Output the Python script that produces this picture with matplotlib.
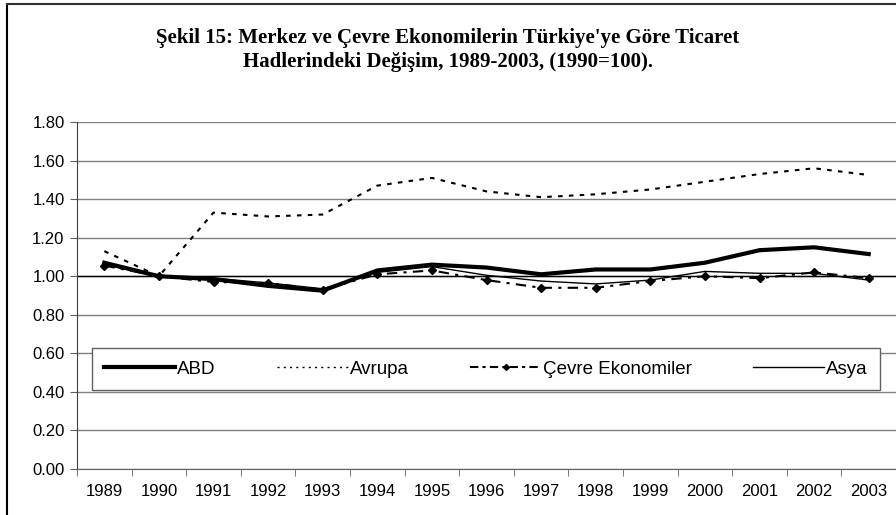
import matplotlib
matplotlib.use("Agg")
import matplotlib.pyplot as plt
from matplotlib.lines import Line2D
import numpy as np

years = ["1989", "1990", "1991", "1992", "1993", "1994", "1995", "1996",
         "1997", "1998", "1999", "2000", "2001", "2002", "2003"]
abd = [1.07, 1.00, 0.985, 0.95, 0.925, 1.03, 1.06, 1.045, 1.01, 1.035,
       1.035, 1.07, 1.135, 1.15, 1.115]
avrupa = [1.13, 1.00, 1.33, 1.31, 1.32, 1.47, 1.51, 1.44, 1.41, 1.425,
          1.45, 1.49, 1.53, 1.56, 1.525]
cevre = [1.055, 1.00, 0.97, 0.965, 0.93, 1.01, 1.03, 0.98, 0.94, 0.94,
         0.975, 1.00, 0.99, 1.02, 0.99]
asya = [1.06, 1.00, 0.99, 0.965, 0.935, 1.02, 1.05, 1.005, 0.975, 0.96,
        0.98, 1.025, 1.015, 1.015, 0.98]
y_ticks = [0.0, 0.2, 0.4, 0.6, 0.8, 1.0, 1.2, 1.4, 1.6, 1.8]

title = ("Şekil 15: Merkez ve Çevre Ekonomilerin Türkiye'ye Göre Ticaret\n"
         "Hadlerindeki Değişim, 1989-2003, (1990=100).")

W, H = 896, 515
fig = plt.figure(figsize=(W / 100, H / 100), dpi=100)
ax = fig.add_axes([77 / W, 1 - 469 / H, 819 / W, 347 / H])

x = np.arange(len(years))

# gridlines
for v in y_ticks:
    ax.axhline(v, color="#808080", lw=1, zorder=1)
ax.axhline(1.0, color="black", lw=1, zorder=1.5)

ax.plot(x, abd, color="black", lw=3, zorder=3)
ax.plot(x, avrupa, color="black", lw=1.5, ls=(0, (2.2, 3)), zorder=3)
ax.plot(x, cevre, color="black", lw=1.5, ls=(0, (5, 3, 1.5, 3)),
        marker="D", ms=4, zorder=3)
ax.plot(x, asya, color="black", lw=1, zorder=3)

ax.set_xlim(-0.5, len(years) - 0.5)
ax.set_ylim(0, 1.8)
ax.set_yticks(y_ticks)
ax.set_yticklabels([f"{v:.2f}" for v in y_ticks])
ax.set_xticks(x)
ax.set_xticklabels(years)
ax.set_xticks(np.arange(len(years) + 1) - 0.5, minor=True)
ax.tick_params(axis="x", which="major", length=0, pad=11, labelsize=12)
ax.tick_params(axis="x", which="minor", length=5, color="#606060")
ax.tick_params(axis="y", length=5, color="#606060", labelsize=12, pad=4)
for lab in ax.get_xticklabels() + ax.get_yticklabels():
    lab.set_family("Liberation Sans")

for side in ["top", "right"]:
    ax.spines[side].set_visible(False)
ax.spines["left"].set_color("#404040")
ax.spines["bottom"].set_color("#606060")

handles = [
    Line2D([], [], color="black", lw=3),
    Line2D([], [], color="black", lw=1, ls=(0, (1.5, 3))),
    Line2D([], [], color="black", lw=1.5, ls=(0, (4, 2, 1.5, 2)),
           marker="D", ms=3, markevery=[1]),
    Line2D([], [], color="black", lw=1),
]
labels = ["ABD", "Avrupa", "Çevre Ekonomiler", "Asya"]
leg = ax.legend(handles, labels, loc="lower left", ncol=4, mode="expand",
                bbox_to_anchor=(0.0183, 0.2277, 0.962, 0.1183),
                fancybox=False, framealpha=1, edgecolor="#606060",
                borderaxespad=0, borderpad=0.65, handlelength=3.8,
                handletextpad=0.1,
                prop={"family": "Liberation Sans", "size": 13.5})
leg.get_frame().set_linewidth(1)
leg.set_zorder(5)

fig.text(0.5, 1 - 50 / H, title, ha="center", va="center",
         family="Liberation Serif", weight="bold", fontsize=15,
         linespacing=1.3)

# outer frame (left and top edges visible)
fig.add_artist(Line2D([6.5 / W, 6.5 / W], [0, 1 - 3.5 / H], color="black",
                      lw=1.5, transform=fig.transFigure))
fig.add_artist(Line2D([6.5 / W, 1], [1 - 3.5 / H, 1 - 3.5 / H], color="#303030",
                      lw=1.5, transform=fig.transFigure))

fig.savefig("out.png", dpi=100)
